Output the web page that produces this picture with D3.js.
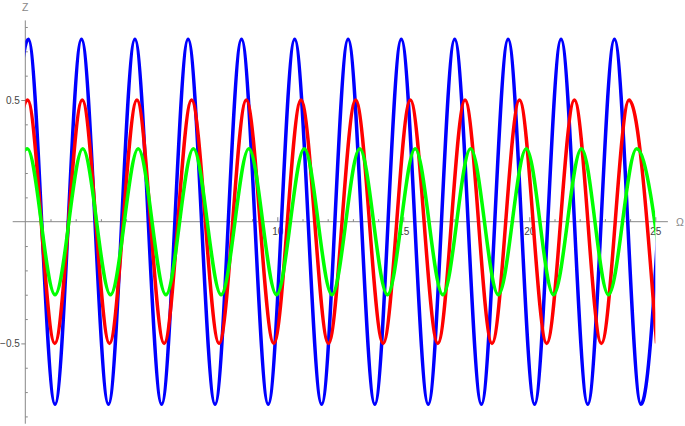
<!DOCTYPE html>
<html>
<head>
<meta charset="utf-8">
<script src="https://cdn.jsdelivr.net/npm/d3@7"></script>
<style>
  html, body { margin: 0; padding: 0; background: #fff; }
  svg { display: block; }
  .tick text { font-family: "Liberation Sans", Arial, sans-serif; font-size: 10px; fill: #444; }
</style>
</head>
<body>
<div id="chart-area"></div>
<script>
// --- Data (extremum points: Omega, Z) ---
var blueOmega = [-0.94, 0.12, 1.18, 2.23, 3.30, 4.35, 5.41, 6.46, 7.53, 8.58, 9.64, 10.69, 11.76,
                 12.81, 13.87, 14.92, 15.99, 17.04, 18.10, 19.16, 20.21, 21.26, 22.32, 23.38, 24.43, 25.49];
var blueZ = [-0.75, 0.75, -0.75, 0.75, -0.75, 0.75, -0.75, 0.75, -0.75, 0.75, -0.75, 0.75, -0.75,
             0.75, -0.75, 0.75, -0.75, 0.75, -0.75, 0.75, -0.75, 0.75, -0.75, 0.75, -0.75, 0.75];

var redOmega = [-1.00, 0.09, 1.17, 2.26, 3.34, 4.43, 5.51, 6.60, 7.69, 8.77, 9.86, 10.94, 12.03,
                13.11, 14.20, 15.28, 16.37, 17.45, 18.52, 19.61, 20.69, 21.79, 22.86, 23.96, 25.05];
var redZ = [-0.5, 0.5, -0.5, 0.5, -0.5, 0.5, -0.5, 0.5, -0.5, 0.5, -0.5, 0.5, -0.5,
            0.5, -0.5, 0.5, -0.5, 0.5, -0.5, 0.5, -0.5, 0.5, -0.5, 0.5, -0.5];

var greenOmega = [-1.02, 0.08, 1.18, 2.28, 3.38, 4.48, 5.58, 6.67, 7.77, 8.87, 9.97, 11.07, 12.17,
                  13.27, 14.37, 15.47, 16.57, 17.67, 18.77, 19.88, 20.96, 22.07, 23.14, 24.26, 25.36];
var greenZ = [-0.3, 0.3, -0.3, 0.3, -0.3, 0.3, -0.3, 0.3, -0.3, 0.3, -0.3, 0.3, -0.3,
              0.3, -0.3, 0.3, -0.3, 0.3, -0.3, 0.3, -0.3, 0.3, -0.3, 0.3, -0.3];

var xTickLabels = [5, 10, 15, 20, 25];
var yTickLabels = [-0.5, 0.5];

var series = [
    {name: "blue", color: "#0000ff", omega: blueOmega, z: blueZ},
    {name: "red", color: "#ff0000", omega: redOmega, z: redZ},
    {name: "green", color: "#00ff00", omega: greenOmega, z: greenZ}
];

// --- Setup the canvas ---
var width = 685, height = 426;
var axisColor = "#888";

var svg = d3.select("#chart-area").append("svg")
    .attr("width", width)
    .attr("height", height);

// --- Scales ---
var x = d3.scaleLinear().domain([0, 25]).range([25.3, 655.3]);
var y = d3.scaleLinear().domain([-0.5, 0.5]).range([343.4, 100]);

// --- Axis lines ---
svg.append("line")
    .attr("x1", x(-0.5)).attr("x2", x(25.5))
    .attr("y1", y(0)).attr("y2", y(0))
    .attr("stroke", axisColor).attr("stroke-width", 1);

svg.append("line")
    .attr("x1", x(0)).attr("x2", x(0))
    .attr("y1", y(0.827)).attr("y2", y(-0.83))
    .attr("stroke", axisColor).attr("stroke-width", 1);

// x ticks (pointing up), labels below
var xMinor = d3.range(1, 26).filter(function(d) { return d % 5 !== 0; });
var xMinorG = svg.append("g")
    .attr("transform", "translate(0," + y(0) + ")")
    .call(d3.axisTop(x).tickValues(xMinor).tickSize(2.5).tickFormat(""));
var xMajorG = svg.append("g")
    .attr("transform", "translate(0," + y(0) + ")")
    .call(d3.axisTop(x).tickValues(xTickLabels).tickSize(4.5).tickFormat(""));
var xLabelG = svg.append("g")
    .attr("transform", "translate(0," + y(0) + ")")
    .call(d3.axisBottom(x).tickValues(xTickLabels).tickSize(0).tickPadding(6));

// y ticks
var yMinor = d3.range(-8, 9).filter(function(d) { return d !== 0 && Math.abs(d) !== 5; })
    .map(function(d) { return d / 10; });
var yMinorG = svg.append("g")
    .attr("transform", "translate(" + x(0) + ",0)")
    .call(d3.axisRight(y).tickValues(yMinor).tickSize(2.5).tickFormat(""));
var yMajorG = svg.append("g")
    .attr("transform", "translate(" + x(0) + ",0)")
    .call(d3.axisLeft(y).tickValues(yTickLabels).tickSize(4).tickPadding(1.5));

[xMinorG, xMajorG, xLabelG, yMinorG, yMajorG].forEach(function(g) {
    g.select(".domain").remove();
    g.selectAll("line").attr("stroke", axisColor);
});

// axis names
svg.append("text")
    .text("Z")
    .attr("x", x(0)).attr("y", 7)
    .attr("text-anchor", "middle")
    .attr("dominant-baseline", "central")
    .attr("font-family", "Liberation Sans, Arial, sans-serif")
    .attr("font-size", "10.5px")
    .attr("fill", "#888");

svg.append("text")
    .text("Ω")
    .attr("x", 680).attr("y", y(0))
    .attr("text-anchor", "middle")
    .attr("dominant-baseline", "central")
    .attr("font-family", "Liberation Sans, Arial, sans-serif")
    .attr("font-size", "10.5px")
    .attr("fill", "#888");

// --- Curves ---
svg.append("clipPath")
    .attr("id", "plot-clip")
    .append("rect")
        .attr("x", x(0)).attr("y", 0)
        .attr("width", x(25) - x(0)).attr("height", height);

var line = d3.line()
    .x(function(d) { return x(d[0]); })
    .y(function(d) { return y(d[1]); })
    .curve(d3.curveMonotoneX);

svg.append("g")
    .attr("clip-path", "url(#plot-clip)")
    .selectAll("path")
    .data(series)
    .enter()
    .append("path")
        .attr("fill", "none")
        .attr("stroke", function(d) { return d.color; })
        .attr("stroke-width", 3.5)
        .attr("d", function(d) {
            return line(d.omega.map(function(o, i) { return [o, d.z[i]]; }));
        });
</script>
</body>
</html>
